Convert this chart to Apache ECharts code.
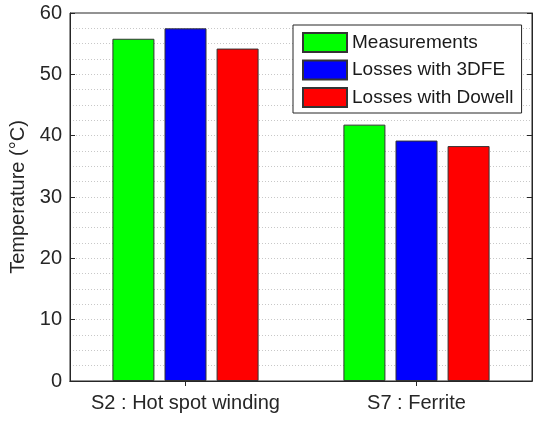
<!DOCTYPE html>
<html>
<head>
<meta charset="utf-8">
<script src="https://cdn.jsdelivr.net/npm/echarts@6/dist/echarts.min.js"></script>
<style>
  html, body { margin: 0; padding: 0; background: #fff; }
  #chart { width: 534px; height: 423px; }
</style>
</head>
<body>
<div id="chart"></div>
<script>
// data
let categories = ['S2 : Hot spot winding', 'S7 : Ferrite'];
let seriesNames = ['Measurements', 'Losses with 3DFE', 'Losses with Dowell'];
let measurements = [55.8, 41.8];
let losses3dfe = [57.5, 39.2];
let lossesDowell = [54.2, 38.3];
let colors = ['#00ff00', '#0000ff', '#ff0000'];

let font = "'Liberation Sans', Arial, sans-serif";
let axisColor = '#262626';
let gridLine = { show: true, showMinLine: false, showMaxLine: false, lineStyle: { color: '#c8c8c8', type: [1, 2], width: 1 } };

var myChart = echarts.init(document.getElementById('chart'));

function makeBar(name, values, i) {
    return {
        name: name,
        type: 'bar',
        data: values,
        barWidth: 42,
        barGap: '24%',
        itemStyle: {
            color: colors[i],
            borderColor: '#333333',
            borderWidth: 1
        }
    };
}

let option = {
    animation: false,
    backgroundColor: '#ffffff',
    textStyle: { fontFamily: font },
    grid: {
        left: 67, top: 13, right: 2, bottom: 42, containLabel: false,
        show: true, borderColor: axisColor, borderWidth: 1, backgroundColor: 'transparent'
    },
    legend: {
        data: seriesNames,
        orient: 'vertical',
        left: 293,
        top: 25,
        padding: [7, 8, 5, 9],
        itemWidth: 44,
        itemHeight: 19,
        itemGap: 6.5,
        icon: 'rect',
        borderColor: axisColor,
        borderWidth: 1,
        borderRadius: 0,
        backgroundColor: '#ffffff',
        textStyle: { fontSize: 19, color: '#1a1a1a', fontFamily: font }
    },
    xAxis: [
        {
            type: 'category',
            data: categories,
            position: 'bottom',
            axisLine: { show: true, lineStyle: { color: axisColor, width: 1 } },
            axisTick: { show: true, inside: true, alignWithLabel: true, length: 5, lineStyle: { color: axisColor } },
            axisLabel: { interval: 0, fontSize: 20, color: '#262626', margin: 12, fontFamily: font },
            splitLine: { show: false }
        },
        {
            type: 'category',
            data: categories,
            position: 'top',
            axisLine: { show: true, lineStyle: { color: axisColor, width: 1 } },
            axisTick: { show: true, inside: true, alignWithLabel: true, interval: 0, length: 5, lineStyle: { color: axisColor } },
            axisLabel: { show: false },
            splitLine: { show: false }
        }
    ],
    yAxis: [
        {
            type: 'value',
            min: 0,
            max: 60,
            interval: 10,
            position: 'left',
            name: 'Temperature (°C)',
            nameLocation: 'middle',
            nameGap: 42,
            nameTextStyle: { fontSize: 20, color: '#262626', fontFamily: font },
            axisLine: { show: true, lineStyle: { color: axisColor, width: 1 } },
            axisTick: { show: true, inside: true, length: 5, lineStyle: { color: axisColor } },
            axisLabel: { fontSize: 20, color: '#262626', margin: 8, fontFamily: font },
            splitLine: gridLine,
            minorTick: { show: false, splitNumber: 4 },
            minorSplitLine: { show: true, lineStyle: gridLine.lineStyle }
        },
        {
            type: 'value',
            min: 0,
            max: 60,
            interval: 10,
            position: 'right',
            axisLine: { show: true, lineStyle: { color: axisColor, width: 1 } },
            axisTick: { show: true, inside: true, length: 5, lineStyle: { color: axisColor } },
            axisLabel: { show: false },
            splitLine: { show: false }
        }
    ],
    series: [
        makeBar(seriesNames[0], measurements, 0),
        makeBar(seriesNames[1], losses3dfe, 1),
        makeBar(seriesNames[2], lossesDowell, 2)
    ]
};

myChart.setOption(option);
</script>
</body>
</html>
